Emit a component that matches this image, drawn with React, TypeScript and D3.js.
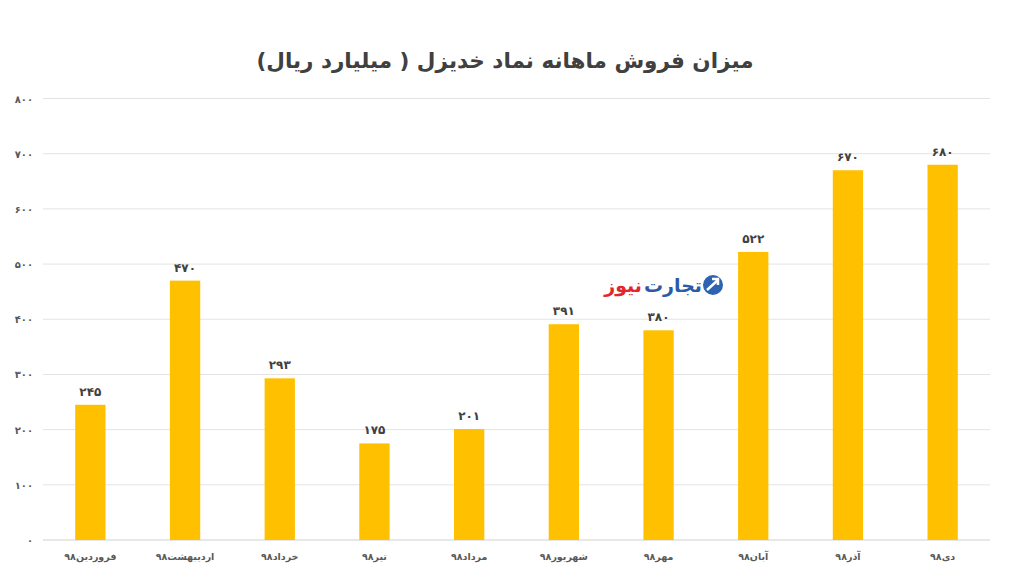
import React from "react";
import * as d3 from "d3";

const categories = ["فروردین۹۸", "اردیبهشت۹۸", "خرداد۹۸", "تیر۹۸", "مرداد۹۸", "شهریور۹۸", "مهر۹۸", "آبان۹۸", "آذر۹۸", "دی۹۸"];
const values = [245, 470, 293, 175, 201, 391, 380, 522, 670, 680];
const yTicks = [0, 100, 200, 300, 400, 500, 600, 700, 800];
const title = "میزان فروش ماهانه نماد خدیزل ( میلیارد ریال)";

const fa = (n: number) => String(n).replace(/[0-9]/g, (d) => "۰۱۲۳۴۵۶۷۸۹"[+d]);

export default function App() {
  const W = 1024, H = 576;
  const left = 43, right = 990, top = 98.5, bottom = 540;
  const x = d3.scaleBand<string>().domain(categories).range([left, right]).paddingInner(0.68).paddingOuter(0.34);
  const y = d3.scaleLinear().domain([0, 800]).range([bottom, top]);
  const font = "'DejaVu Sans', sans-serif";
  return (
    <svg width={W} height={H} style={{ position: "absolute", left: 0, top: 0, background: "#fff" }} fontFamily={font}>
      <rect width={W} height={H} fill="#fff" />
      <text x={505} y={68} textAnchor="middle" fontSize={21.5} fontWeight="bold" fill="#404040">{title}</text>
      {yTicks.map((t) => (
        <g key={t}>
          <line x1={left} x2={right} y1={y(t)} y2={y(t)} stroke={t === 0 ? "#d0d0d0" : "#e3e3e3"} strokeWidth={1} />
          <text x={33} y={y(t) + 4} textAnchor="end" fontSize={10} fontWeight="bold" fill="#595959">{fa(t)}</text>
        </g>
      ))}
      {categories.map((c, i) => (
        <g key={c}>
          <rect x={x(c)} y={y(values[i])} width={x.bandwidth()} height={y(0) - y(values[i])} fill="#FFC000" />
          <text x={(x(c) as number) + x.bandwidth() / 2} y={y(values[i]) - 9} textAnchor="middle" fontSize={12} fontWeight="bold" fill="#404040">{fa(values[i])}</text>
          <text x={(x(c) as number) + x.bandwidth() / 2} y={560} textAnchor="middle" fontSize={9.5} fontWeight="bold" fill="#595959">{c}</text>
        </g>
      ))}
      <g>
        <circle cx={713} cy={285} r={10} fill="#2d63b0" />
        <path d="M707,290 L718,280 M712,279 L718,279 L718,285" stroke="#fff" strokeWidth={2.5} fill="none" />
        <text x={702} y={292} textAnchor="end" fontSize={19} fontWeight="bold" fill="#2d5aa6">تجارت</text>
        <text x={642} y={292} textAnchor="end" fontSize={19} fontWeight="bold" fill="#e3262d">نیوز</text>
      </g>
    </svg>
  );
}
